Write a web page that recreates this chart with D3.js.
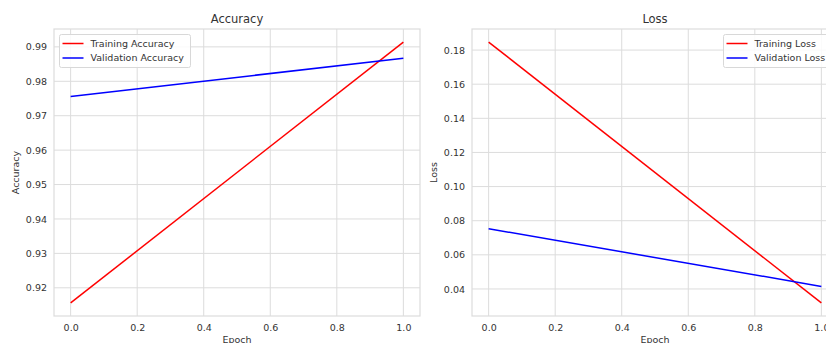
<!DOCTYPE html>
<html>
<head>
<meta charset="utf-8">
<script src="https://cdn.jsdelivr.net/npm/d3@7"></script>
<style>
  body { margin: 0; background: #fff; }
  svg { display: block; font-family: "DejaVu Sans", sans-serif; }
</style>
</head>
<body>
<svg width="826" height="343"></svg>
<script>
// Data
const epochs = [0, 1];
const trainAcc = [0.9156, 0.9914];
const valAcc = [0.9756, 0.9867];
const trainLoss = [0.1847, 0.0318];
const valLoss = [0.0753, 0.0415];
const xTicks = [0, 0.2, 0.4, 0.6, 0.8, 1.0];
const accTicks = [0.92, 0.93, 0.94, 0.95, 0.96, 0.97, 0.98, 0.99];
const lossTicks = [0.04, 0.06, 0.08, 0.10, 0.12, 0.14, 0.16, 0.18];

const svg = d3.select("svg");
const textColor = "#333";
const gridColor = "#dcdcdc";

// matplotlib style 5% margins on the data range
function padded(vals) {
  const [lo, hi] = d3.extent(vals);
  const m = (hi - lo) * 0.05;
  return [lo - m, hi + m];
}

function drawPanel(opts) {
  const { left, width, top, height, title, ylabel, series, yTicks, yFmt, legend } = opts;
  const g = svg.append("g");

  const x = d3.scaleLinear().domain(padded(epochs)).range([left, left + width]);
  const y = d3.scaleLinear()
    .domain(padded(series.flatMap(s => s.values)))
    .range([top + height, top]);

  // grid
  g.append("g").selectAll("line").data(xTicks).enter().append("line")
    .attr("x1", d => x(d)).attr("x2", d => x(d))
    .attr("y1", top).attr("y2", top + height)
    .attr("stroke", gridColor).attr("stroke-width", 1);
  g.append("g").selectAll("line").data(yTicks).enter().append("line")
    .attr("x1", left).attr("x2", left + width)
    .attr("y1", d => y(d)).attr("y2", d => y(d))
    .attr("stroke", gridColor).attr("stroke-width", 1);

  // frame
  g.append("rect")
    .attr("x", left).attr("y", top)
    .attr("width", width).attr("height", height)
    .attr("fill", "none").attr("stroke", gridColor).attr("stroke-width", 1.2);

  // tick labels via d3 axes, without tick marks or domain
  const xAxis = g.append("g")
    .attr("transform", `translate(0,${top + height})`)
    .call(d3.axisBottom(x).tickValues(xTicks).tickFormat(d3.format(".1f")).tickSize(0).tickPadding(8));
  const yAxis = g.append("g")
    .attr("transform", `translate(${left},0)`)
    .call(d3.axisLeft(y).tickValues(yTicks).tickFormat(yFmt).tickSize(0).tickPadding(7));
  [xAxis, yAxis].forEach(a => {
    a.select(".domain").remove();
    a.selectAll("text").attr("fill", textColor).style("font-size", "9.5px")
      .style("font-family", "DejaVu Sans, sans-serif");
  });

  // lines
  const line = d3.line().x((d, i) => x(epochs[i])).y(d => y(d));
  series.forEach(s => {
    g.append("path")
      .attr("d", line(s.values))
      .attr("fill", "none")
      .attr("stroke", s.color)
      .attr("stroke-width", 1.5);
  });

  // title and axis labels
  g.append("text")
    .attr("x", left + width / 2).attr("y", top - 6)
    .attr("text-anchor", "middle").attr("fill", textColor)
    .style("font-size", "11.5px").text(title);
  g.append("text")
    .attr("x", left + width / 2).attr("y", top + height + 27)
    .attr("text-anchor", "middle").attr("fill", textColor)
    .style("font-size", "9.5px").text("Epoch");
  g.append("text")
    .attr("transform", `translate(${left - 35},${top + height / 2}) rotate(-90)`)
    .attr("text-anchor", "middle").attr("fill", textColor)
    .style("font-size", "9.5px").text(ylabel);

  // legend
  const lg = g.append("g").attr("transform", `translate(${legend.x},${legend.y})`);
  lg.append("rect")
    .attr("width", legend.w).attr("height", 33).attr("rx", 2)
    .attr("fill", "#fff").attr("fill-opacity", 0.85)
    .attr("stroke", "#d8d8d8").attr("stroke-width", 1);
  series.forEach((s, i) => {
    const cy = 9 + i * 14.5;
    lg.append("line")
      .attr("x1", 3).attr("x2", 24).attr("y1", cy).attr("y2", cy)
      .attr("stroke", s.color).attr("stroke-width", 1.5);
    lg.append("text")
      .attr("x", 31).attr("y", cy).attr("dy", "0.35em")
      .attr("fill", textColor).style("font-size", "9.5px").text(s.label);
  });
}

drawPanel({
  left: 54, width: 366, top: 29, height: 287,
  title: "Accuracy", ylabel: "Accuracy",
  series: [
    { label: "Training Accuracy", values: trainAcc, color: "#ff0000" },
    { label: "Validation Accuracy", values: valAcc, color: "#0000ff" }
  ],
  yTicks: accTicks, yFmt: d3.format(".2f"),
  legend: { x: 59.5, y: 34.5, w: 131 }
});

drawPanel({
  left: 472, width: 366, top: 29, height: 287,
  title: "Loss", ylabel: "Loss",
  series: [
    { label: "Training Loss", values: trainLoss, color: "#ff0000" },
    { label: "Validation Loss", values: valLoss, color: "#0000ff" }
  ],
  yTicks: lossTicks, yFmt: d3.format(".2f"),
  legend: { x: 723.5, y: 34.5, w: 110 }
});
</script>
</body>
</html>
